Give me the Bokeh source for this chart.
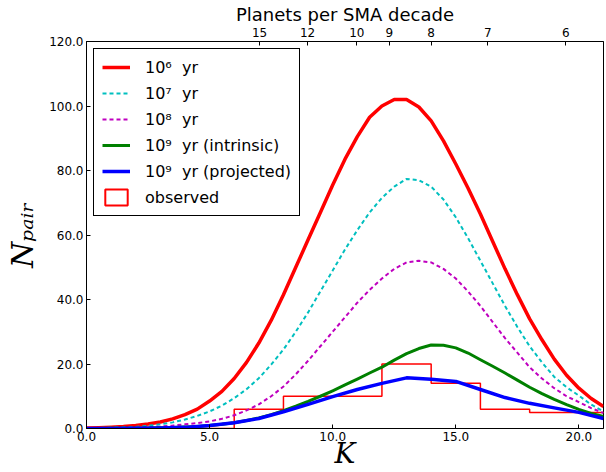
import numpy as np
from bokeh.plotting import figure
from bokeh.models import (Range1d, LinearAxis, FixedTicker, NumeralTickFormatter,
                          Legend, LegendItem)
from bokeh.embed import file_html
from bokeh.resources import INLINE

# ---------------- data ----------------
K_smooth = np.arange(0.0, 21.01, 0.5)

N_1e6 = [0.15, 0.25, 0.4, 0.6, 0.9, 1.4, 2.0, 3.0, 4.3, 6.0,
         8.5, 11.5, 15.5, 20.5, 26.5, 33.5, 41.5, 50.0, 58.5, 67.0,
         75.5, 83.5, 90.5, 96.5, 100.0, 102.0, 102.0, 99.7, 95.4, 89.2,
         82.0, 74.5, 66.5, 58.0, 49.5, 41.5, 34.0, 27.5, 21.5, 16.5,
         12.5, 9.3, 6.8]

N_1e7 = [0.1, 0.15, 0.25, 0.35, 0.5, 0.85, 1.3, 1.9, 2.8, 3.9,
         5.3, 7.1, 9.4, 12.2, 15.6, 19.8, 24.5, 30.0, 36.0, 42.5,
         49.0, 55.5, 61.5, 67.0, 71.5, 75.0, 77.4, 77.0, 75.0, 71.0,
         65.5, 59.0, 52.0, 45.0, 38.0, 31.5, 25.5, 20.5, 16.0, 12.8,
         10.2, 7.4, 5.3]

N_1e8 = [0.05, 0.08, 0.1, 0.15, 0.25, 0.4, 0.6, 0.9, 1.3, 1.7,
         2.2, 3.0, 4.1, 5.6, 7.5, 10.0, 13.0, 16.8, 21.0, 25.5,
         30.0, 34.5, 39.0, 43.0, 46.5, 49.5, 51.5, 52.0, 51.5, 49.5,
         46.5, 42.5, 38.0, 33.0, 28.0, 23.5, 19.0, 15.5, 12.5, 10.0,
         8.2, 6.3, 4.8]

N_1e9_intrinsic = [0.02, 0.03, 0.05, 0.07, 0.1, 0.15, 0.22, 0.32, 0.45, 0.65,
                   0.9, 1.3, 1.8, 2.5, 3.3, 4.3, 5.5, 6.9, 8.4, 10.0,
                   11.7, 13.5, 15.3, 17.2, 19.0, 21.2, 23.2, 24.8, 25.9, 25.8,
                   25.0, 23.4, 21.3, 19.3, 17.2, 15.0, 12.8, 10.8, 9.0, 7.4,
                   5.9, 4.7, 3.7]

K_proj = list(range(0, 22))
N_1e9_projected = [0.0, 0.02, 0.05, 0.12, 0.35, 0.9, 1.8, 3.1, 5.2, 7.5,
                   9.9, 12.1, 14.0, 15.7, 15.3, 14.6, 12.1, 9.6, 7.8, 6.4,
                   5.0, 3.1]

obs_edges = [0, 2, 4, 6, 8, 10, 12, 14, 16, 18, 20, 22]
obs_counts = [0, 0, 0, 6, 10, 10, 20, 14, 6, 5, 5]

top_tick_labels = [15, 12, 10, 9, 8, 7, 6]
top_tick_K = [7.03, 8.98, 10.98, 12.3, 14.0, 16.3, 19.47]

x_ticks = [0, 5, 10, 15, 20]
y_ticks = [0, 20, 40, 60, 80, 100, 120]
x_lim = (0, 21)
y_lim = (0, 120)

# ---------------- figure ----------------
p = figure(width=606, height=472, output_backend="svg", toolbar_location=None,
           x_range=Range1d(*x_lim), y_range=Range1d(*y_lim),
           min_border_left=86, min_border_right=3, min_border_top=40,
           min_border_bottom=43, background_fill_color="white",
           border_fill_color="white")
p.xgrid.visible = False
p.ygrid.visible = False
p.outline_line_color = "black"
p.outline_line_width = 1

TICK_FONT = "DejaVu Sans"

for ax in (p.xaxis[0], p.yaxis[0]):
    ax.major_label_text_font = TICK_FONT
    ax.major_label_text_font_size = "12px"
    ax.major_label_text_color = "black"
    ax.minor_tick_line_color = None
    ax.major_tick_in = 4
    ax.major_tick_out = 0
    ax.major_label_standoff = 3
    ax.axis_line_color = "black"
    ax.formatter = NumeralTickFormatter(format="0.0")
    ax.axis_label_text_font = "DejaVu Serif"
    ax.axis_label_text_font_style = "italic"
    ax.axis_label_text_font_size = "30px"
    ax.axis_label_text_color = "black"

p.xaxis[0].ticker = FixedTicker(ticks=x_ticks)
p.yaxis[0].ticker = FixedTicker(ticks=y_ticks)
p.xaxis[0].axis_label = "K"
p.xaxis[0].axis_label_text_font_size = "28px"
p.xaxis[0].axis_label_standoff = -7
p.yaxis[0].axis_label = "Nₚₐᵢᵣ"
p.yaxis[0].axis_label_standoff = 6

# top axis: planets per SMA decade
top = LinearAxis(ticker=FixedTicker(ticks=top_tick_K),
                 major_label_overrides={k: str(n) for k, n in zip(top_tick_K, top_tick_labels)},
                 axis_label="Planets per SMA decade")
top.major_label_text_font = TICK_FONT
top.major_label_text_font_size = "12px"
top.major_label_text_color = "black"
top.major_tick_in = 4
top.major_tick_out = 0
top.minor_tick_line_color = None
top.major_label_standoff = 5
top.axis_label_text_font = TICK_FONT
top.axis_label_text_font_style = "normal"
top.axis_label_text_font_size = "18px"
top.axis_label_text_color = "black"
top.axis_label_standoff = 0
p.add_layout(top, "above")

# observed histogram outline (step)
hx, hy = [obs_edges[0]], [0]
for i, c in enumerate(obs_counts):
    hx += [obs_edges[i], obs_edges[i + 1]]
    hy += [c, c]
hx.append(obs_edges[-1])
hy.append(0)
p.line(hx, hy, line_color="#ff0000", line_width=1.5)
# legend-only patch (NaN data so nothing is drawn in the plot)
r_obs = p.quad(left=[np.nan], right=[np.nan], top=[np.nan], bottom=[np.nan],
               fill_color=None, line_color="#ff0000", line_width=2)

r6 = p.line(K_smooth, N_1e6, line_color="#ff0000", line_width=3.5, line_join="round")
r7 = p.line(K_smooth, N_1e7, line_color="#00bfbf", line_width=2, line_dash="4 3")
r8 = p.line(K_smooth, N_1e8, line_color="#bf00bf", line_width=2, line_dash="4 3")
r9i = p.line(K_smooth, N_1e9_intrinsic, line_color="#008000", line_width=3, line_join="round")
r9p = p.line(K_proj, N_1e9_projected, line_color="#0000ff", line_width=3.5, line_join="round")

legend = Legend(items=[
    LegendItem(label="10⁶  yr", renderers=[r6]),
    LegendItem(label="10⁷  yr", renderers=[r7]),
    LegendItem(label="10⁸  yr", renderers=[r8]),
    LegendItem(label="10⁹  yr (intrinsic)", renderers=[r9i]),
    LegendItem(label="10⁹  yr (projected)", renderers=[r9p]),
    LegendItem(label="observed", renderers=[r_obs]),
], location="top_left")
legend.margin = 7
legend.padding = 8
legend.spacing = 6
legend.glyph_width = 28
legend.glyph_height = 20
legend.label_standoff = 15
legend.label_height = 20
legend.label_text_font = TICK_FONT
legend.label_text_font_size = "16px"
legend.label_text_color = "black"
legend.border_line_color = "black"
legend.border_line_width = 1
legend.border_line_alpha = 1.0
legend.background_fill_alpha = 1.0
p.add_layout(legend)

open("out.html", "w").write(file_html(p, INLINE))
